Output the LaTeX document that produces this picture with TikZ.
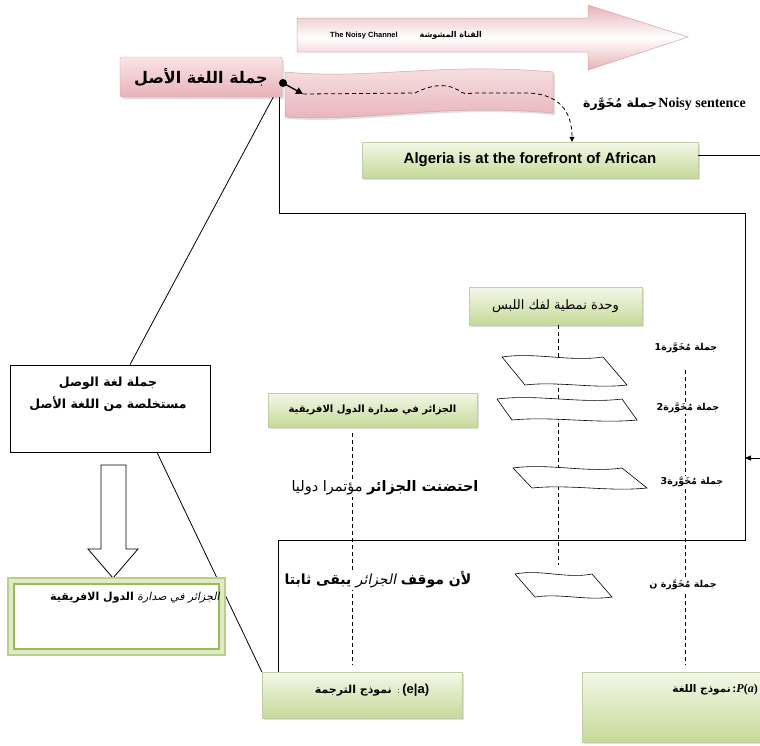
\documentclass[tikz,border=0pt]{standalone}
\usepackage{fontspec}
\setmainfont{Liberation Sans}
\newfontfamily\arabicfont[Script=Arabic,AutoFakeSlant=0.2]{DejaVu Sans}
\newfontfamily\timesfont{Liberation Serif}
\TeXXeTstate=1
\usetikzlibrary{arrows.meta,shadows}
\definecolor{pinkA}{RGB}{250,228,230}
\definecolor{pinkB}{RGB}{230,178,183}
\definecolor{pinkE}{RGB}{210,165,170}
\definecolor{grnA}{RGB}{244,247,232}
\definecolor{grnB}{RGB}{198,217,152}
\definecolor{grnE}{RGB}{192,206,168}
\definecolor{olv}{RGB}{155,187,89}
\definecolor{olvL}{RGB}{222,235,196}
\tikzset{
  shad/.style={drop shadow={opacity=0.25,shadow xshift=2pt,shadow yshift=-2pt}},
  gbox/.style={draw=grnE, top color=grnA, bottom color=grnB, shad, inner sep=0pt},
  pbox/.style={draw=pinkE, top color=pinkA, bottom color=pinkB, shad, inner sep=0pt, rounded corners=2pt},
  conn/.style={line width=0.8pt},
  dline/.style={line width=0.8pt, dash pattern=on 4pt off 3pt},
  lab/.style={font=\arabicfont\bfseries\fontsize{9.5}{11}\selectfont, fill=white, inner sep=1pt},
  wshape/.style={draw, fill=white, line width=0.6pt}
}
\newcommand\wavyshape[6]{%
  \path[wshape] (#1,#3) .. controls ({#1+(#2-#1)/3},{#3-5}) and ({#1+2*(#2-#1)/3},{#3+5}) .. (#2,#3)
    -- (#5,#6) .. controls ({#5-(#5-#4)/3},{#6+4}) and ({#5-2*(#5-#4)/3},{#6-4}) .. (#4,#6) -- cycle;}
\begin{document}
\begin{tikzpicture}[x=1pt,y=-1pt]
\useasboundingbox (0,0) rectangle (760,745);
% top arrow
\shade[top color=pinkB, bottom color=pinkB, middle color=white, draw=pinkE, line width=0.5pt]
  (297,18) -- (588,18) -- (588,5) -- (688,37) -- (588,70) -- (588,52) -- (297,52) -- cycle;
\node[anchor=west, inner sep=0pt] (chan) at (330,35) {\fontsize{7.5}{8}\selectfont\bfseries The Noisy Channel\hspace{22pt}{\arabicfont\fontsize{8}{9}\selectfont\beginR القناة المشوشة\endR}};
% tape
\shade[top color=pinkA, bottom color=pinkB, draw=pinkE, line width=0.5pt, shad]
  (285,72) .. controls (370,80) and (440,62) .. (553,72) -- (553,113)
  .. controls (440,103) and (370,122) .. (285,117) -- cycle;
% source
\node[pbox, minimum width=162pt, minimum height=40pt] (src) at (201,77)
  {\arabicfont\bfseries\fontsize{16}{18}\selectfont\beginR جملة اللغة الأصل\endR};
\coordinate (dot) at (283,83);
\coordinate (dstart) at (303,94);
\fill (dot) circle (4);
\draw[line width=1.3pt, -{Triangle[length=7pt,width=7pt]}] (dot) -- (dstart);
% Algeria
\node[gbox, minimum width=336pt, minimum height=36pt] (alg) at (530,160)
  {\bfseries\fontsize{15}{17}\selectfont Algeria is at the forefront of African};
\draw[dline, -{Triangle[length=5pt,width=5pt]}] (dstart) -- (415,93)
  .. controls (428,86) and (445,82) .. (458,90) .. controls (464,94) .. (475,93) -- (522,93)
  .. controls (560,92) and (572,112) .. ([xshift=42pt]alg.north);
\coordinate (algR) at (762,155);
\draw[conn] ([yshift=5pt]alg.east) -- ([yshift=5pt]alg.east -| algR);
\node[anchor=west, inner sep=0pt] (noisy) at (583,104)
  {{\arabicfont\bfseries\fontsize{12.5}{14}\selectfont\beginR جملة مُخَوَّرة\endR}\,{\timesfont\bfseries\fontsize{14}{16}\selectfont Noisy sentence}};
% bottom boxes
\node[gbox, minimum width=200pt, minimum height=46pt] (tm) at (362,695) {};
\node[inner sep=0pt] (tmt) at (372,690)
  {{\arabicfont\bfseries\fontsize{11}{13}\selectfont\beginR نموذج الترجمة\endR}\ \ {\fontsize{8}{9}\selectfont :}\ {\bfseries\fontsize{13}{15}\selectfont (e|a)}};
\node[gbox, minimum width=182pt, minimum height=70pt] (lm) at (673,707) {};
\node[anchor=east, inner sep=0pt] (lmt) at (758,690)
  {{\arabicfont\bfseries\fontsize{10.5}{12}\selectfont\beginR نموذج اللغة\endR}\,{\timesfont\bfseries\fontsize{12}{14}\selectfont :\textit{P}(\textit{a})}};
% big connector path
\coordinate (c1) at (745,213);
\coordinate (c2) at (745,540);
\draw[conn] ([xshift=-3pt]src.south east) |- (c1) -- (c2) -| ([xshift=17pt]tm.north west);
\coordinate (rin) at (762,458);
\draw[conn, -{Triangle[length=6pt,width=5pt]}] (rin) -- (745,458);
% target white box
\node[draw, line width=0.8pt, fill=white, minimum width=200pt, minimum height=87pt] (tgt) at (110,408.5) {};
\node[font=\arabicfont\bfseries\fontsize{12.5}{22}\selectfont, align=center, inner sep=0pt] (tgtt) at (108,394)
  {\beginR جملة لغة الوصل\endR\\\beginR مستخلصة من اللغة الأصل\endR};
\draw[conn] ([xshift=-9pt]src.south east) -- ([xshift=20pt]tgt.north);
\draw[conn] ([xshift=47pt]tgt.south) -- (tm.north west);
% hollow arrow
\draw[line width=0.8pt, fill=white] (101,465) -- (126,465) -- (126,549) -- (138,549) -- (113,578) -- (88,549) -- (101,549) -- cycle;
% result double box
\node[draw=olv!70, line width=1.2pt, fill=olvL, minimum width=217pt, minimum height=77pt] (res) at (116.5,616.5) {};
\node[draw=olv, line width=1.5pt, fill=white, minimum width=205pt, minimum height=65pt] (resi) at (res.center) {};
\node[anchor=east, inner sep=0pt] (rest) at (220,598)
  {\arabicfont\fontsize{11}{13}\selectfont\beginR{\itshape الجزائر في صدارة} {\bfseries الدول الافريقية}\endR};
% module box
\node[gbox, minimum width=173pt, minimum height=38pt] (mod) at (555.5,306)
  {\arabicfont\fontsize{13}{15}\selectfont\beginR وحدة نمطية لفك اللبس\endR};
\node[gbox, minimum width=209pt, minimum height=34pt] (gb) at (372.5,410)
  {\arabicfont\bfseries\fontsize{10}{12}\selectfont\beginR الجزائر في صدارة الدول الافريقية\endR};
% dashed verticals
\coordinate (m2) at (558,565);
\coordinate (l1) at (352,433);
\coordinate (l2) at (352,665);
\coordinate (r1) at (685,370);
\coordinate (r2) at (685,665);
\draw[dline] (mod.south -| m2) -- (m2);
\draw[dline] (l1) -- (l2);
\draw[dline] (r1) -- (r2);
% wavy shapes
\wavyshape{502}{603}{357}{525}{627}{385}
\wavyshape{497}{622}{399}{512}{637}{420}
\wavyshape{513}{622}{468}{532}{647}{488}
\wavyshape{515}{592}{574}{535}{612}{597}
% labels
\node[lab] (n1) at (686,348) {\beginR جملة مُخَوَّرة1\endR};
\node[lab] (n2) at (688,408) {\beginR جملة مُخَوَّرة2\endR};
\node[lab] (n3) at (692,482) {\beginR جملة مُخَوَّرة3\endR};
\node[lab] (nn) at (683,585) {\beginR جملة مُخَوَّرة ن\endR};
\node[fill=white, inner sep=2pt, font=\arabicfont\fontsize{14.5}{16}\selectfont] (s1) at (385,488)
  {\beginR{\bfseries\itshape احتضنت الجزائر} مؤتمرا دوليا\endR};
\node[fill=white, inner sep=2pt, font=\arabicfont\fontsize{14}{16}\selectfont] (s2) at (378,580)
  {\beginR{\bfseries\itshape لأن موقف} {\itshape الجزائر} {\bfseries\itshape يبقى ثابتا}\endR};
\end{tikzpicture}
\end{document}
